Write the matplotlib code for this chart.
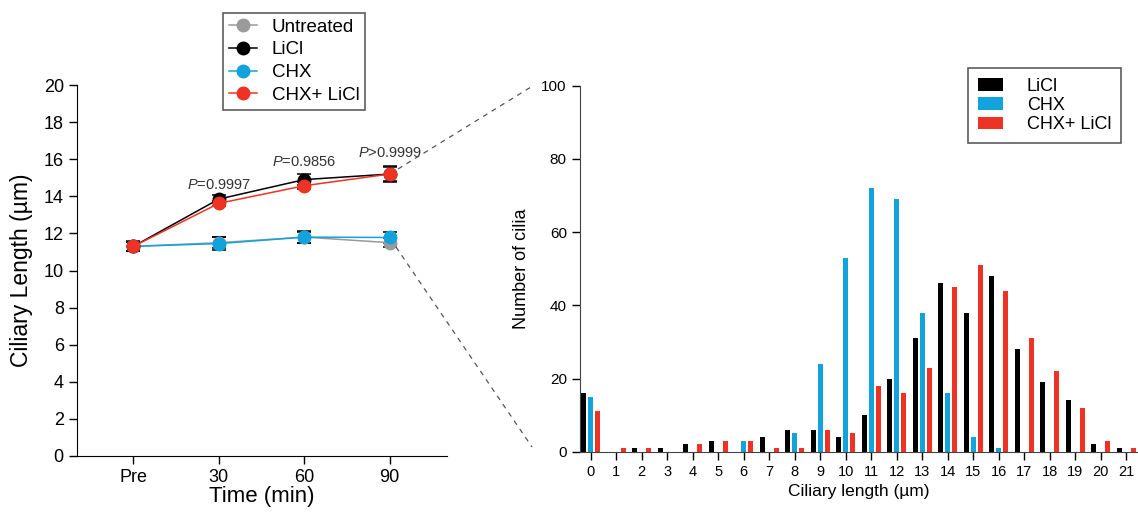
import matplotlib
matplotlib.use("Agg")
import matplotlib.pyplot as plt
import numpy as np
from matplotlib.lines import Line2D

plt.rcParams['font.family'] = ['Liberation Sans', 'DejaVu Sans']
plt.rcParams['mathtext.fontset'] = 'custom'
plt.rcParams['mathtext.rm'] = 'Liberation Sans'
plt.rcParams['mathtext.it'] = 'Liberation Sans:italic'

# --- time course data (mean +/- error) ---
tempos = ["Pre", "30", "60", "90"]
untreated = [11.3, 11.5, 11.8, 11.5]
untreated_err = [0.25, 0.3, 0.3, 0.25]
licl = [11.3, 13.85, 14.9, 15.2]
licl_err = [0.25, 0.2, 0.3, 0.45]
chx = [11.3, 11.45, 11.8, 11.78]
chx_err = [0.27, 0.33, 0.33, 0.3]
chx_licl = [11.3, 13.62, 14.57, 15.2]
chx_licl_err = [0.25, 0.15, 0.2, 0.4]
p_textos = ["P=0.9997", "P=0.9856", "P>0.9999"]
p_y = [14.6, 15.85, 16.35]

# --- histogram data ---
bins = list(range(22))
hist_licl = [16, 0, 1, 1, 2, 3, 0, 4, 6, 6, 4, 10, 20, 31, 46, 38, 48, 28, 19, 14, 2, 1]
hist_chx = [15, 0, 0, 0, 0, 0, 3, 0, 5, 24, 53, 72, 69, 38, 16, 4, 1, 0, 0, 0, 0, 0]
hist_chx_licl = [11, 1, 1, 0, 2, 3, 3, 1, 1, 6, 5, 18, 16, 23, 45, 51, 44, 31, 22, 12, 3, 1]

cinza = '#9a9a9a'
azul = '#12a3dc'
vermelho = '#ee3324'

fig = plt.figure(figsize=(11.38, 5.12), dpi=100)

# ---------- left panel ----------
ax1 = fig.add_axes([77/1138, 1-456/512, 370/1138, 371/512])
x = np.arange(len(tempos))
series = [("Untreated", untreated, untreated_err, cinza),
          ("CHX", chx, chx_err, azul),
          ("LiCl", licl, licl_err, 'black'),
          ("CHX+ LiCl", chx_licl, chx_licl_err, vermelho)]
handles = {}
for nome, y, e, cor in series:
    ax1.errorbar(x, y, yerr=e, fmt='none', ecolor='black', elinewidth=1.1,
                 capsize=5, capthick=1.1, zorder=2)
    h, = ax1.plot(x, y, '-o', color=cor, lw=1.1, ms=9, zorder=3)
    handles[nome] = h

for xi, txt, yy in zip(x[1:], p_textos, p_y):
    ax1.text(xi, yy, "$P$" + txt[1:], ha='center', va='center', fontsize=10.5, color='#333333')

ax1.set_xlim(-0.66, 3.67)
ax1.set_ylim(0, 20)
ax1.set_yticks(range(0, 21, 2))
ax1.set_xticks(x)
ax1.set_xticklabels(tempos)
ax1.tick_params(labelsize=13, length=6, width=1)
ax1.spines['top'].set_visible(False)
ax1.spines['right'].set_visible(False)
ax1.set_xlabel("Time (min)", fontsize=16, labelpad=0)
ax1.set_ylabel("Ciliary Length (µm)", fontsize=16.5, labelpad=8)

ordem = ["Untreated", "LiCl", "CHX", "CHX+ LiCl"]
leg1 = fig.legend([handles[n] for n in ordem], ordem, loc='upper left',
                  bbox_to_anchor=(223/1138, 1-13/512), fontsize=13.5,
                  frameon=True, fancybox=False, edgecolor='#333333',
                  handlelength=1.5, handletextpad=0.8, labelspacing=0.3,
                  borderpad=0.3, borderaxespad=0)
leg1.get_frame().set_linewidth(1.2)

# ---------- right panel ----------
ax2 = fig.add_axes([580/1138, 1-451.7/512, 557/1138, 366/512])
b = np.array(bins)
w = 0.2
ax2.bar(b - 0.28, hist_licl, width=w, color='black', label='LiCl')
ax2.bar(b, hist_chx, width=w, color=azul, label='CHX')
ax2.bar(b + 0.28, hist_chx_licl, width=w, color=vermelho, label='CHX+ LiCl')
ax2.set_xlim(-0.42, 21.42)
ax2.set_ylim(0, 100)
ax2.set_xticks(bins)
ax2.set_yticks(range(0, 101, 20))
ax2.tick_params(axis='x', labelsize=10.5, length=6, width=1)
ax2.tick_params(axis='y', labelsize=11, length=6, width=1)
for s in ['top', 'right']:
    ax2.spines[s].set_visible(False)
for s in ['left', 'bottom']:
    ax2.spines[s].set_color('#444444')
ax2.set_xlabel("Ciliary length (µm)", fontsize=12.5, labelpad=4)
ax2.set_ylabel("Number of cilia", fontsize=13, labelpad=8)

leg2 = fig.legend(*ax2.get_legend_handles_labels(), loc='upper left',
                  bbox_to_anchor=(968/1138, 1-68/512), fontsize=13,
                  frameon=True, fancybox=False, edgecolor='#333333',
                  handlelength=1.4, handleheight=0.72, handletextpad=1.3,
                  labelspacing=0.12, borderpad=0.55, borderaxespad=0)
leg2.get_frame().set_linewidth(1.2)

# ---------- dashed zoom connectors ----------
for (x0, y0), (x1, y1) in [((398, 169), (531, 87)), ((396, 247), (532, 447))]:
    fig.add_artist(Line2D([x0/1138, x1/1138], [1-y0/512, 1-y1/512],
                          transform=fig.transFigure, color='#555555',
                          lw=0.9, ls=(0, (4, 4))))

fig.savefig("out.png", dpi=100)
